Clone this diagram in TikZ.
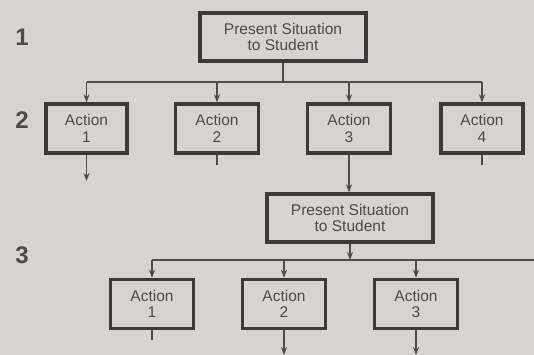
\documentclass[tikz,border=0pt]{standalone}
\usepackage{fontspec}
\setmainfont{Liberation Sans}
\usetikzlibrary{positioning, arrows.meta}
\definecolor{paper}{HTML}{D8D3CE}
\definecolor{ink}{HTML}{4E4C4A}
\definecolor{frame}{HTML}{3C3A39}

\begin{document}
\begin{tikzpicture}[
  x=1pt, y=-1pt,
  font=\fontsize{15.5}{16.5}\selectfont,
  >={Stealth[length=8pt, width=6pt]},
  ln/.style={draw=ink, line width=1.2pt},
  arr/.style={->, ln},
  blk/.style={draw=frame, line width=3.3pt, align=center, text=ink,
              inner sep=2pt, minimum width=#1, minimum height=49pt},
  blk/.default=83pt,
  lvl/.style={font=\fontsize{24}{24}\selectfont\bfseries, text=ink},
]

\fill[paper] (0,0) rectangle (534,355);
\useasboundingbox (0,0) rectangle (534,355);

%% ===== LEVEL LABELS =====
\node[lvl] (lab1) at (22,37)  {1};
\node[lvl] (lab2) at (22,120) {2};
\node[lvl] (lab3) at (22,255) {3};

%% ===== LEVEL 1 =====
\node[blk=166pt, minimum height=48pt] (pres1) at (283,37)
    {Present Situation\\to Student};

%% ===== LEVEL 2 =====
\node[blk=81pt] (act21) at (86.5,128.5) {Action\\1};
\node[blk]      (act22) at (217,128.5)  {Action\\2};
\node[blk]      (act23) at (349,128.5)  {Action\\3};
\node[blk=82pt] (act24) at (482,128.5)  {Action\\4};

\node[blk=166pt, minimum height=48pt] (pres2) at (350,218)
    {Present Situation\\to Student};

%% ===== LEVEL 3 =====
\node[blk] (act31) at (152,304) {Action\\1};
\node[blk] (act32) at (284,304) {Action\\2};
\node[blk] (act33) at (416,304) {Action\\3};

%% ===== CONNECTORS =====
\coordinate (bus1) at (283,82);
\coordinate (bus2) at (350,260);
\coordinate (busend) at (534,260);

\draw[ln] (pres1.south) -- (bus1);
\draw[ln] (act21.north |- bus1) -- (act24.north |- bus1);
\foreach \n in {act21, act22, act23, act24}
  \draw[arr] (\n.north |- bus1) -- (\n.north);

\coordinate (out21) at (86.5,181);
\coordinate (out22) at (217,165);
\coordinate (out24) at (482,165);
\draw[arr] (act21.south) -- (out21);
\draw[ln]  (act22.south) -- (out22);
\draw[arr] (act23.south) -- (act23.south |- pres2.north);
\draw[ln]  (act24.south) -- (out24);

\draw[arr] (pres2.south) -- (bus2);
\draw[ln] (act31.north |- bus2) -- (busend);
\foreach \n in {act31, act32, act33}
  \draw[arr] (\n.north |- bus2) -- (\n.north);

\coordinate (out31) at (152,340);
\coordinate (out32) at (284,355);
\coordinate (out33) at (416,355);
\draw[ln]  (act31.south) -- (out31);
\draw[arr] (act32.south) -- (out32);
\draw[arr] (act33.south) -- (out33);

\end{tikzpicture}
\end{document}
